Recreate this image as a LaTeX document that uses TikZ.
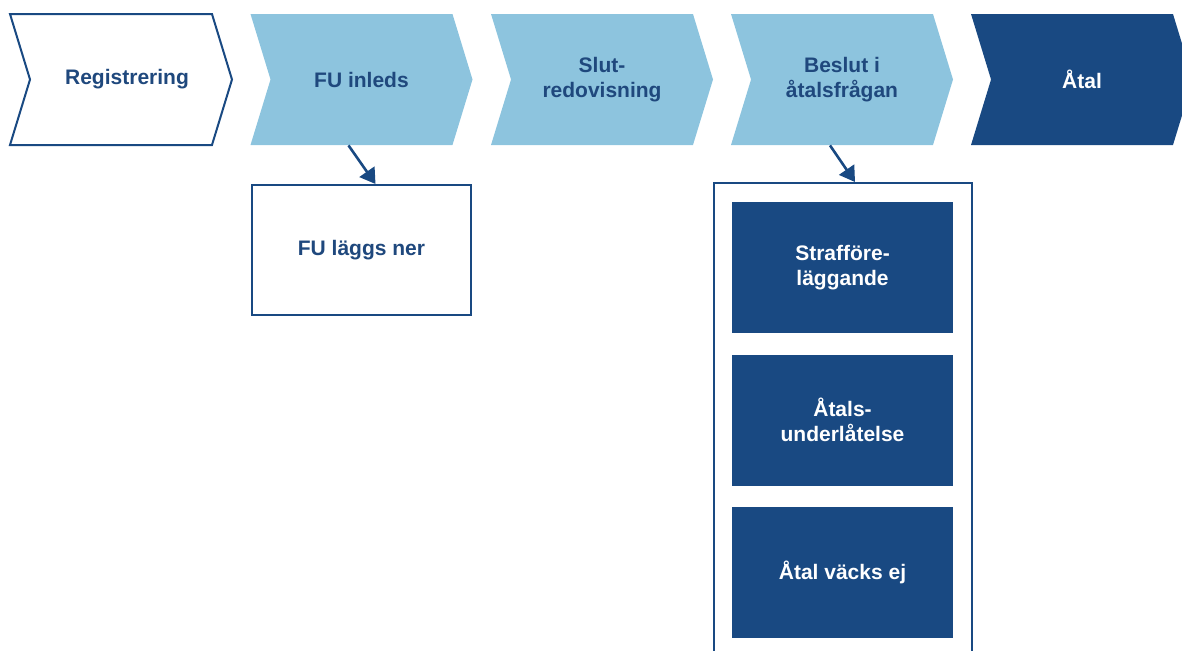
\documentclass[tikz,border=0pt]{standalone}
\usepackage{fontspec}
\setmainfont{Liberation Sans}
\usepackage{tikz}
\usetikzlibrary{shapes.symbols, arrows.meta}
\definecolor{ljusbla}{RGB}{141,196,222}
\definecolor{morkbla}{RGB}{25,73,130}
\definecolor{textbla}{RGB}{31,72,125}

\begin{document}
\begin{tikzpicture}[x=0.5pt, y=0.5pt,
every node/.style={font=\fontsize{10.5}{12.5}\selectfont\bfseries, align=center},
%
steg/.style={signal, signal from=west, signal to=east, signal pointer angle=146,
minimum width=111pt, minimum height=65.5pt, inner sep=0pt},
%
vitsteg/.style={steg, draw=morkbla, line width=1pt, fill=white, text=textbla},
%
ljussteg/.style={steg, fill=ljusbla, text=textbla},
%
morksteg/.style={steg, fill=morkbla, text=white},
%
utfall/.style={rectangle, draw=morkbla, line width=1pt, fill=white, text=textbla,
minimum width=109.5pt, minimum height=65pt},
%
beslut/.style={rectangle, fill=morkbla, text=white,
minimum width=110.5pt, minimum height=65.5pt},
%
pil/.style={-{Triangle[width=9pt, length=7.5pt]}, draw=morkbla, line width=1.3pt}]

\useasboundingbox (0,0) rectangle (1182,650);

\begin{scope}
  %%%%%%%%%%%%%%%%%%%%%%%%%%%%%%
  \node [vitsteg]  (reg)    at (121,570.5)  {\hspace*{6pt}Registrering};
  \node [ljussteg] (fuinl)  at (361.5,570.5) {FU inleds};
  \node [ljussteg] (slut)   at (602,570.5)  {Slut-\\redovisning};
  \node [ljussteg] (atalsf) at (842,570.5)  {Beslut i\\åtalsfrågan};
  \node [morksteg] (atal)   at (1082,570.5) {Åtal};
  %%%%%%%%%%%%%%%%%%%%%%%%%%%%%%
  \node [utfall] (fulagg) at (361.5,400) {FU läggs ner};
  %%%%%%%%%%%%%%%%%%%%%%%%%%%%%%
  \node [utfall, minimum width=129pt, minimum height=243.5pt] (ram) at (843,223.5) {};
  \node [beslut] (straff) at (842.5,382.5) {Strafföre-\\läggande};
  \node [beslut] (underl) at (842.5,230)   {Åtals-\\underlåtelse};
  \node [beslut] (vacks)  at (842.5,77.5)  {Åtal väcks ej};
\end{scope}

\begin{scope}
  \draw [pil] ([xshift=-6.5pt]fuinl.south) -- ([xshift=7pt]fulagg.north);
  \draw [pil] ([xshift=-6pt]atalsf.south) -- ([xshift=6pt]ram.north);
\end{scope}

\end{tikzpicture}
\end{document}
